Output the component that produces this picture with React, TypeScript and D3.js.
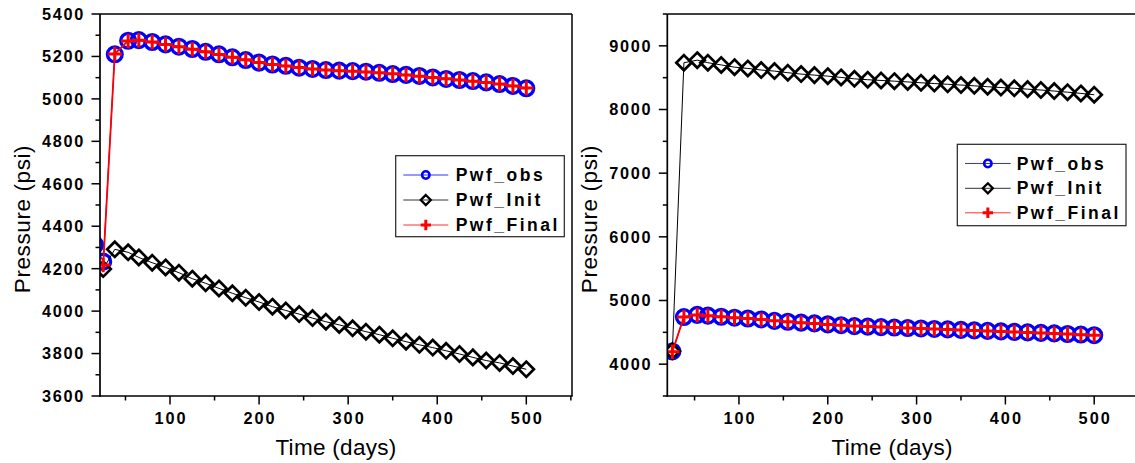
import React from 'react';
import * as d3 from 'd3';

// ---------- data ----------
const TIMES = [25, 38, 53, 65, 80, 95, 110, 125, 140, 155, 170, 185, 200, 215, 230, 245, 260, 275, 290, 305, 320, 335, 350, 365, 380, 395, 410, 425, 440, 455, 470, 485, 500];
const LEFT_OBS_TIMES = [16, ...TIMES];

const leftObs = [4312, 4233, 5210, 5274, 5277, 5268, 5257, 5246, 5235, 5222, 5210, 5196, 5183, 5171, 5162, 5156, 5147, 5141, 5136, 5133, 5131, 5128, 5123, 5117, 5113, 5108, 5101, 5094, 5089, 5084, 5078, 5070, 5061, 5050];
const leftInit = [4198, 4291, 4277, 4253, 4228, 4206, 4181, 4153, 4131, 4107, 4084, 4063, 4043, 4021, 4003, 3986, 3967, 3950, 3935, 3919, 3903, 3889, 3872, 3856, 3841, 3828, 3813, 3798, 3782, 3767, 3756, 3741, 3726];
const leftFinal = [4217, 5212, 5273, 5276, 5268, 5256, 5246, 5234, 5222, 5209, 5196, 5184, 5171, 5162, 5155, 5148, 5141, 5136, 5133, 5130, 5127, 5123, 5118, 5113, 5107, 5101, 5095, 5089, 5083, 5077, 5070, 5061, 5051];

const rightObs = [4200, 4740, 4775, 4762, 4745, 4730, 4717, 4702, 4680, 4666, 4652, 4640, 4625, 4612, 4598, 4590, 4582, 4575, 4568, 4561, 4553, 4546, 4538, 4530, 4523, 4515, 4507, 4500, 4491, 4483, 4474, 4465, 4455];
const rightInit = [4205, 8735, 8775, 8735, 8700, 8665, 8645, 8620, 8603, 8578, 8556, 8540, 8524, 8504, 8482, 8468, 8456, 8445, 8433, 8420, 8408, 8396, 8384, 8372, 8358, 8345, 8333, 8320, 8306, 8290, 8272, 8253, 8232];
const rightFinal = [4196, 4742, 4773, 4760, 4744, 4730, 4716, 4700, 4680, 4665, 4652, 4639, 4625, 4611, 4598, 4590, 4582, 4575, 4567, 4560, 4553, 4545, 4538, 4530, 4522, 4515, 4507, 4499, 4491, 4482, 4473, 4464, 4455];

const SERIES_NAMES = ['Pwf_obs', 'Pwf_Init', 'Pwf_Final'];

const X_MAJOR = [100, 200, 300, 400, 500];
const X_MINOR = [50, 150, 250, 350, 450, 550];
const LEFT_Y_MAJOR = [3600, 3800, 4000, 4200, 4400, 4600, 4800, 5000, 5200, 5400];
const LEFT_Y_MINOR = [3700, 3900, 4100, 4300, 4500, 4700, 4900, 5100, 5300];
const RIGHT_Y_MAJOR = [4000, 5000, 6000, 7000, 8000, 9000];
const RIGHT_Y_MINOR = [3500, 4500, 5500, 6500, 7500, 8500, 9500];

// ---------- styling ----------
const BLUE = '#0000ff';
const RED = '#ff0000';
const FONT = "'Liberation Sans', Arial, sans-serif";

type Kind = 'circle' | 'diamond' | 'cross';

function Marker({ kind, x, y, s = 1 }: { kind: Kind; x: number; y: number; s?: number }) {
  if (kind === 'circle') {
    return <circle cx={x} cy={y} r={7.4 * s} fill="none" stroke={BLUE} strokeWidth={s < 1 ? 2.6 : 3.3} />;
  }
  if (kind === 'diamond') {
    const h = 7.6 * s;
    return (
      <path
        d={`M${x},${y - h}L${x + h},${y}L${x},${y + h}L${x - h},${y}Z`}
        fill="none"
        stroke="#000"
        strokeWidth={s < 1 ? 2.3 : 2.7}
        strokeLinejoin="miter"
      />
    );
  }
  const h = 7.2 * s;
  return <path d={`M${x - h},${y}H${x + h}M${x},${y - h}V${y + h}`} stroke={RED} strokeWidth={3} fill="none" />;
}

interface Series {
  times: number[];
  values: number[];
  kind: Kind;
  color: string;
  lineWidth: number;
}

interface PanelProps {
  id: string;
  xRange: [number, number];
  xDomain: [number, number];
  yDomain: [number, number];
  yMajor: number[];
  yMinor: number[];
  series: Series[];
  legend: { x: number; y: number; w: number; h: number; rowY: number[]; lineX0: number; lineX1: number; textX: number };
}

const TOP = 14;
const BOTTOM = 396;

function Panel(p: PanelProps) {
  const x = d3.scaleLinear().domain(p.xDomain).range(p.xRange);
  const y = d3.scaleLinear().domain(p.yDomain).range([BOTTOM, TOP]);
  const [x0, x1] = p.xRange;
  const line = d3.line<[number, number]>().x((d) => x(d[0])).y((d) => y(d[1]));
  const legendKinds: Kind[] = ['circle', 'diamond', 'cross'];
  const legendColors = [BLUE, '#000', RED];
  const clipId = `clip-${p.id}`;
  const titleX = x1 > 1135 ? (x0 + 1135) / 2 - 9 : (x0 + x1) / 2;
  return (
    <g>
      <defs>
        <clipPath id={clipId}>
          <rect x={x0} y={TOP - 20} width={x1 - x0} height={BOTTOM - TOP + 40} />
        </clipPath>
      </defs>
      {/* data */}
      <g clipPath={`url(#${clipId})`}>
        {p.series.map((s, i) => {
          const pts = s.times.map((t, j) => [t, s.values[j]] as [number, number]);
          return (
            <g key={i}>
              <path d={line(pts) || ''} fill="none" stroke={s.color} strokeWidth={s.lineWidth} />
              {pts.map((d, j) => (
                <Marker key={j} kind={s.kind} x={x(d[0])} y={y(d[1])} />
              ))}
            </g>
          );
        })}
      </g>
      {/* frame */}
      <line x1={x0} x2={x1} y1={TOP} y2={TOP} stroke="#000" strokeWidth={1.5} />
      <line x1={x1} x2={x1} y1={TOP} y2={BOTTOM} stroke="#000" strokeWidth={1.5} />
      <line x1={x0} x2={x0} y1={TOP} y2={BOTTOM + 0.75} stroke="#000" strokeWidth={1.7} />
      <line x1={x0 - 0.75} x2={x1 + 0.75} y1={BOTTOM} y2={BOTTOM} stroke="#000" strokeWidth={1.7} />
      {/* x ticks */}
      {X_MAJOR.map((t) => (
        <g key={`xm${t}`}>
          <line x1={x(t)} x2={x(t)} y1={BOTTOM} y2={BOTTOM + 8.5} stroke="#000" strokeWidth={1.5} />
          <text
            x={x(t) + 1}
            y={BOTTOM + 27.5}
            textAnchor="middle"
            fontFamily={FONT}
            fontWeight="bold"
            fontSize={16.3}
            style={{ letterSpacing: '2px' }}
          >
            {t}
          </text>
        </g>
      ))}
      {X_MINOR.filter((t) => x(t) <= x1 + 1).map((t) => (
        <line key={`xn${t}`} x1={x(t)} x2={x(t)} y1={BOTTOM} y2={BOTTOM + 4.5} stroke="#000" strokeWidth={1.5} />
      ))}
      {/* y ticks */}
      {p.yMajor.map((t) => (
        <g key={`ym${t}`}>
          <line x1={x0 - 8.5} x2={x0} y1={y(t)} y2={y(t)} stroke="#000" strokeWidth={1.5} />
          <text
            x={x0 - 15}
            y={y(t)}
            dy="0.36em"
            textAnchor="end"
            fontFamily={FONT}
            fontWeight="bold"
            fontSize={16.3}
            style={{ letterSpacing: '1.7px' }}
          >
            {t}
          </text>
        </g>
      ))}
      {p.yMinor.map((t) => (
        <line key={`yn${t}`} x1={x0 - 4.5} x2={x0} y1={y(t)} y2={y(t)} stroke="#000" strokeWidth={1.5} />
      ))}
      {/* axis titles */}
      <text
        transform={`translate(${x0 - 70},${219}) rotate(-90)`}
        textAnchor="middle"
        fontFamily={FONT}
        fontSize={22.5}
        style={{ letterSpacing: '0.6px' }}
      >
        Pressure (psi)
      </text>
      <text x={titleX} y={455} textAnchor="middle" fontFamily={FONT} fontSize={22.5} style={{ letterSpacing: '0.3px' }}>
        Time (days)
      </text>
      {/* legend */}
      <rect x={p.legend.x} y={p.legend.y} width={p.legend.w} height={p.legend.h} fill="#fff" stroke="#222" strokeWidth={1.2} />
      {SERIES_NAMES.map((name, i) => {
        const ly = p.legend.rowY[i];
        const mx = (p.legend.lineX0 + p.legend.lineX1) / 2;
        return (
          <g key={name}>
            <line x1={p.legend.lineX0} x2={p.legend.lineX1} y1={ly} y2={ly} stroke={legendColors[i]} strokeWidth={1} opacity={0.8} />
            <Marker kind={legendKinds[i]} x={mx} y={ly} s={legendKinds[i] === 'circle' ? 0.5 : legendKinds[i] === 'diamond' ? 0.66 : 0.72} />
            <text x={p.legend.textX} y={ly + 6} fontFamily={FONT} fontWeight="bold" fontSize={17.5} style={{ letterSpacing: '2.5px' }}>
              {name}
            </text>
          </g>
        );
      })}
    </g>
  );
}

export default function App() {
  const leftSeries: Series[] = [
    { times: LEFT_OBS_TIMES, values: leftObs, kind: 'circle', color: BLUE, lineWidth: 1 },
    { times: TIMES, values: leftInit, kind: 'diamond', color: '#000', lineWidth: 1 },
    { times: TIMES, values: leftFinal, kind: 'cross', color: RED, lineWidth: 1.8 },
  ];
  const rightSeries: Series[] = [
    { times: TIMES, values: rightObs, kind: 'circle', color: BLUE, lineWidth: 1 },
    { times: TIMES, values: rightInit, kind: 'diamond', color: '#000', lineWidth: 1 },
    { times: TIMES, values: rightFinal, kind: 'cross', color: RED, lineWidth: 1.8 },
  ];
  return (
    <svg width={1135} height={463} style={{ position: 'absolute', left: 0, top: 0, background: '#fff', display: 'block' }}>
      <rect x={0} y={0} width={1135} height={463} fill="#fff" />
      <Panel
        id="left"
        xRange={[100, 572]}
        xDomain={[21.4, 551.3]}
        yDomain={[3600, 5400]}
        yMajor={LEFT_Y_MAJOR}
        yMinor={LEFT_Y_MINOR}
        series={leftSeries}
        legend={{ x: 395.7, y: 155.7, w: 168.6, h: 81, rowY: [175, 200, 225], lineX0: 403.3, lineX1: 448.3, textX: 455.7 }}
      />
      <Panel
        id="right"
        xRange={[667.3, 1138.6]}
        xDomain={[19.3, 550]}
        yDomain={[3500, 9500]}
        yMajor={RIGHT_Y_MAJOR}
        yMinor={RIGHT_Y_MINOR}
        series={rightSeries}
        legend={{ x: 957.3, y: 144.3, w: 168.7, h: 81.4, rowY: [163.5, 188.3, 212.8], lineX0: 965, lineX1: 1010.7, textX: 1016.7 }}
      />
    </svg>
  );
}
